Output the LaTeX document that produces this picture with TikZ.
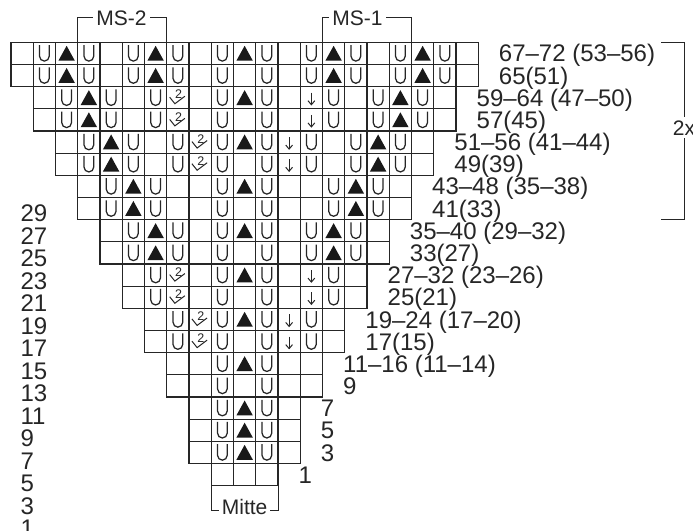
\documentclass[tikz,border=0pt]{standalone}
\usepackage{fontspec}
\setmainfont{Liberation Sans}
\begin{document}
\begin{tikzpicture}[x=1pt,y=-1pt,
  gridcell/.style={draw=black!85,line width=1.1pt},
  symline/.style={line width=1.25pt,draw=black!85},
  thinsym/.style={line width=1pt,draw=black!85},
  rowlabel/.style={anchor=base west,inner sep=0pt,font=\fontsize{24}{24}\selectfont,text=black!85},
  brk/.style={draw=black!85,line width=1pt},
  brktext/.style={fill=white,inner xsep=3pt,inner ysep=2pt,font=\fontsize{21}{21}\selectfont,text=black!85},
  pics/symB/.style={code={}},
  pics/symU/.style={code={\draw[symline] (-4.85,-8.3) -- (-4.85,2.85) arc[start angle=180,end angle=0,radius=4.85] -- (4.85,-8.3);}},
  pics/symT/.style={code={\fill[black!90] (-8.2,7.3) -- (8.2,7.3) -- (0,-7.6) -- cycle;}},
  pics/symZ/.style={code={\draw[thinsym] (-8.2,-0.5) -- (-3,6) -- (7,-1.5);
      \node[inner sep=0pt,font=\fontsize{12.5}{12.5}\selectfont,text=black!85] (-two) at (0.8,-3.2) {2};}},
  pics/symA/.style={code={\draw[thinsym] (0,-5) -- (0,7); \draw[thinsym] (-3.4,3) -- (0,7) -- (3.4,3);}},
]
\useasboundingbox (0,0) rectangle (693,530);
\fill[white] (0,0) rectangle (693,530);

% chart cells
\foreach \r/\c/\s in {
 0/0/{B,U,T,U,B,U,T,U,B,U,T,U,B,U,T,U,B,U,T,U,B},
 1/0/{B,U,T,U,B,U,T,U,B,U,B,U,B,U,T,U,B,U,T,U,B},
 2/1/{B,U,T,U,B,U,Z,B,U,T,U,B,A,U,B,U,T,U,B},
 3/1/{B,U,T,U,B,U,Z,B,U,B,U,B,A,U,B,U,T,U,B},
 4/2/{B,U,T,U,B,U,Z,U,T,U,A,U,B,U,T,U,B},
 5/2/{B,U,T,U,B,U,Z,U,B,U,A,U,B,U,T,U,B},
 6/3/{B,U,T,U,B,B,U,T,U,B,B,U,T,U,B},
 7/3/{B,U,T,U,B,B,U,B,U,B,B,U,T,U,B},
 8/4/{B,U,T,U,B,U,T,U,B,U,T,U,B},
 9/4/{B,U,T,U,B,U,B,U,B,U,T,U,B},
 10/5/{B,U,Z,B,U,T,U,B,A,U,B},
 11/5/{B,U,Z,B,U,B,U,B,A,U,B},
 12/6/{B,U,Z,U,T,U,A,U,B},
 13/6/{B,U,Z,U,B,U,A,U,B},
 14/7/{B,B,U,T,U,B,B},
 15/7/{B,B,U,B,U,B,B},
 16/8/{B,U,T,U,B},
 17/8/{B,U,T,U,B},
 18/8/{B,U,T,U,B},
 19/9/{B,B,B}}
{
  \foreach \k [count=\i from 0] in \s {
    \pgfmathsetmacro{\xx}{11+(\c+\i)*22.25}
    \pgfmathsetmacro{\yy}{42.3+\r*22.17}
    \draw[gridcell] (\xx,\yy) rectangle ++(22.25,22.17);
    \pic (c\r-\i) at (\xx+11.125,\yy+11.085) {sym\k};
  }
}

% right row labels
\foreach \r/\e/\t in {
 0/478.25/{67–72 (53–56)},
 1/478.25/{65(51)},
 2/456/{59–64 (47–50)},
 3/456/{57(45)},
 4/433.75/{51–56 (41–44)},
 5/433.75/{49(39)},
 6/411.5/{43–48 (35–38)},
 7/411.5/{41(33)},
 8/389.25/{35–40 (29–32)},
 9/389.25/{33(27)},
 10/367/{27–32 (23–26)},
 11/367/{25(21)},
 12/344.75/{19–24 (17–20)},
 13/344.75/{17(15)},
 14/322.5/{11–16 (11–14)},
 15/322.5/{9},
 16/300.25/{7},
 17/300.25/{5},
 18/300.25/{3},
 19/278/{1}}
{
  \node[rowlabel] (rl\r) at (\e+20.5, 42.3+\r*22.17+22.17-2.5) {\t};
}

% left row numbers
\foreach \n [count=\k from 0] in {29,27,25,23,21,19,17,15,13,11,9,7,5,3,1}
{
  \node[rowlabel] (ll\n) at (20.3, 221.5+\k*22.5) {\n};
}

% brackets
\draw[brk] (77.75,42.3) -- (77.75,17.3) -- (166.75,17.3) -- (166.75,42.3);
\node[brktext,anchor=base] (ms2) at (121.5,25) {MS-2};
\draw[brk] (322.5,42.3) -- (322.5,17.3) -- (411.5,17.3) -- (411.5,42.3);
\node[brktext,anchor=base] (ms1) at (357.5,25) {MS-1};
\draw[brk] (211.25,485.7) -- (211.25,510.8) -- (278,510.8) -- (278,485.7);
\node[brktext,anchor=base] (mitte) at (244.6,514) {Mitte};
\draw[brk] (661,42.3) -- (684.3,42.3) -- (684.3,219.6) -- (661,219.6);
\node[brktext,anchor=base west,inner xsep=0pt,inner ysep=3pt] (rep) at (672.7,135) {2x};
\end{tikzpicture}
\end{document}
